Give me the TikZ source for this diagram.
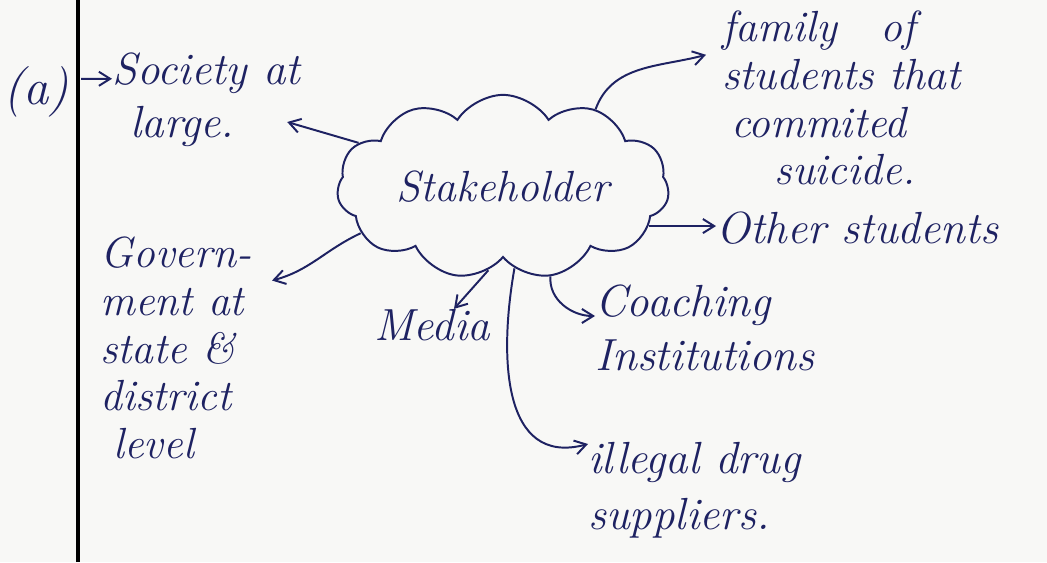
\documentclass[tikz,border=0pt]{standalone}
\usetikzlibrary{shapes.symbols,arrows.meta}
\definecolor{ink}{HTML}{1E2262}
\definecolor{paper}{HTML}{F8F8F6}
\begin{document}
\begin{tikzpicture}[x=0.025cm,y=0.025cm,
  hand/.style={text=ink, font=\fontsize{31}{34}\selectfont\itshape, inner sep=0pt, align=left},
  wide/.style={font=\fontsize{32}{38}\selectfont\itshape},
  arr/.style={draw=ink, line width=1.4pt, -{Straight Barb[length=8pt,width=10pt]}},
]
% page and margin rule
\fill[paper] (0,0) rectangle (1047,562);
\useasboundingbox (0,0) rectangle (1047,562);
\draw[line width=3pt] (78,0) -- (78,562);

% central cloud
\node[hand, cloud, cloud puffs=11, cloud puff arc=115, aspect=2.1, draw=ink, line width=1.4pt,
      minimum width=8.3cm, minimum height=4.0cm, align=center] (stake) at (503,375) {Stakeholder};

% labels
\node[hand, font=\fontsize{36}{36}\selectfont\itshape] (tag) at (36,470) {(a)};
\node[hand, wide, anchor=west] (soc) at (112,462) {Society at\\\hspace*{0.4em}large.};
\node[hand, anchor=west] (fam) at (722,464) {family\quad of\\students that\\\hspace*{0.2em}commited\\\hspace*{1.2em}suicide.};
\node[hand, wide, anchor=west] (oth) at (716,334) {Other students};
\node[hand, anchor=west] (gov) at (100,214) {Govern-\\ment at\\state \&\\district\\\hspace*{0.3em}level};
\node[hand, wide] (media) at (432,237) {Media};
\node[hand, wide, anchor=west] (coach) at (595,234) {Coaching\\Institutions};
\node[hand, font=\fontsize{32}{40}\selectfont\itshape, anchor=west] (drug) at (588,72) {illegal drug\\suppliers.};

% connectors
\draw[arr] ([shift={(0.3cm,0.33cm)}]tag.east) -- ([yshift=0.53cm]soc.west);
\draw[arr] (stake.163) -- ([shift={(-0.33cm,-0.55cm)}]soc.east);
\draw[arr] (stake.40) to[out=70,in=195] ([shift={(-0.4cm,1.08cm)}]fam.west);
\draw[arr] (stake.-15) -- (stake.-15 -| oth.west);
\draw[arr] (stake.-62) to[out=-95,in=180] ([yshift=0.3cm]coach.west);
\draw[arr] (stake.-82) to[out=-100,in=195,looseness=1.2] ([yshift=1.15cm]drug.west);
\draw[arr] (stake.-100) -- ([xshift=0.55cm]media.north);
\draw[arr] (stake.198) to[out=205,in=15] ([shift={(4.3cm,-1.1cm)}]gov.north west);
\end{tikzpicture}
\end{document}
